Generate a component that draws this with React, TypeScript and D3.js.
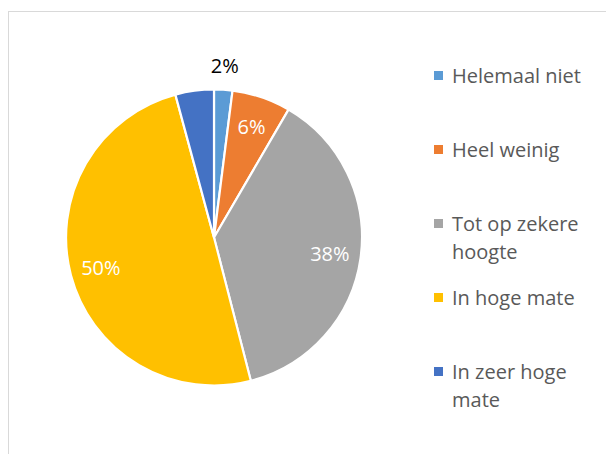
import React from "react";
import * as d3 from "d3";

const categories = ["Helemaal niet", "Heel weinig", "Tot op zekere hoogte", "In hoge mate", "In zeer hoge mate"];
const values = [2, 6.4, 37.6, 49.8, 4.2];
const labels = ["2%", "6%", "38%", "50%", ""];
const legendLines = [["Helemaal niet"], ["Heel weinig"], ["Tot op zekere", "hoogte"], ["In hoge mate"], ["In zeer hoge", "mate"]];
const colors = ["#5B9BD5", "#ED7D31", "#A5A5A5", "#FFC000", "#4472C4"];

const W = 606, H = 454;
const cx = 214, cy = 237.5, R = 148;
const FONT = "'Open Sans', sans-serif";

export default function App() {
  const pie = d3.pie<number>().sort(null).value((d) => d);
  const arcs = pie(values);
  const arc = d3.arc<d3.PieArcDatum<number>>().innerRadius(0).outerRadius(R);
  const inLabel = d3.arc<d3.PieArcDatum<number>>().innerRadius(117 * 2 - 0).outerRadius(0);
  const outLabel = d3.arc<d3.PieArcDatum<number>>().innerRadius(172 * 2).outerRadius(0);
  const legendY = d3.scaleLinear().domain([0, 1]).range([75.5, 75.5 + 74]);

  return (
    <svg width={W} height={H} style={{ position: "absolute", left: 0, top: 0, background: "#fff" }} fontFamily={FONT}>
      <rect x={8.5} y={11.5} width={W + 20} height={H + 20} fill="#fff" stroke="#D9D9D9" strokeWidth={1} />
      <g transform={`translate(${cx},${cy})`}>
        {arcs.map((a, i) => (
          <path key={i} d={arc(a) || ""} fill={colors[i]} stroke="#fff" strokeWidth={2.2} strokeLinejoin="round" />
        ))}
        {arcs.map((a, i) => {
          if (!labels[i]) return null;
          const outside = values[i] < 3;
          const [x, y] = outside ? outLabel.centroid(a) : inLabel.centroid(a);
          return (
            <text key={"l" + i} x={x} y={y} dy="0.36em" textAnchor="middle" fontSize={20}
              fill={outside ? "#000" : "#fff"}>
              {labels[i]}
            </text>
          );
        })}
      </g>
      <g>
        {categories.map((c, i) => {
          const y = legendY(i);
          return (
            <g key={c}>
              <rect x={434} y={y - 4.5} width={9} height={9} fill={colors[i]} />
              {legendLines[i].map((ln, j) => (
                <text key={j} x={452} y={y + 7.5 + j * 28} fontSize={20} fill="#595959">{ln}</text>
              ))}
            </g>
          );
        })}
      </g>
    </svg>
  );
}
